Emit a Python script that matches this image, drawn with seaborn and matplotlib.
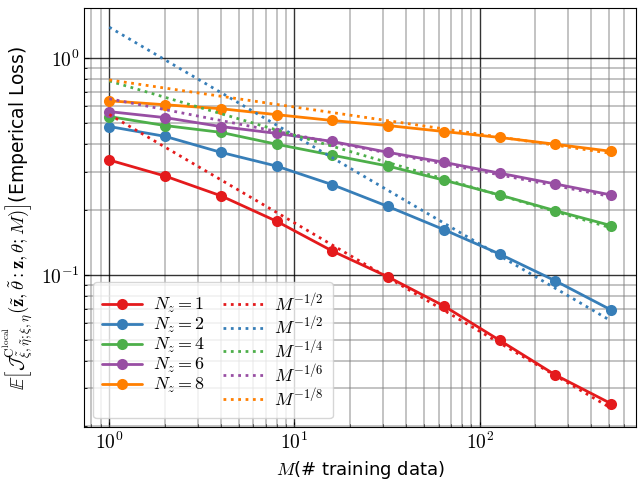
import math
import matplotlib
matplotlib.use('Agg')
import matplotlib.pyplot as plt
import matplotlib.ticker as mticker
import seaborn as sns
import pandas as pd

sns.set_style("ticks")
plt.rcParams['font.family'] = ['DejaVu Sans']
plt.rcParams['mathtext.fontset'] = 'cm'
plt.rcParams['text.color'] = 'black'
plt.rcParams['axes.labelcolor'] = 'black'
plt.rcParams['xtick.color'] = 'black'
plt.rcParams['ytick.color'] = 'black'

# training set sizes
M = [1, 2, 4, 8, 16, 32, 64, 128, 256, 512]

loss_nz1 = [0.339, 0.286, 0.232, 0.177, 0.129, 0.098, 0.072, 0.050, 0.0346, 0.0255]
loss_nz2 = [0.484, 0.436, 0.368, 0.318, 0.261, 0.207, 0.162, 0.125, 0.094, 0.069]
loss_nz4 = [0.538, 0.489, 0.455, 0.401, 0.357, 0.318, 0.274, 0.234, 0.198, 0.169]
loss_nz6 = [0.567, 0.532, 0.484, 0.450, 0.413, 0.368, 0.331, 0.295, 0.263, 0.234]
loss_nz8 = [0.636, 0.610, 0.585, 0.549, 0.516, 0.489, 0.459, 0.431, 0.401, 0.372]

# reference power-law lines (end points at M=1 and M=512)
ref_M = [1, 512]
ref_nz1 = [0.55, 0.0243]
ref_nz2 = [1.39, 0.0614]
ref_nz4 = [0.785, 0.165]
ref_nz6 = [0.65, 0.23]
ref_nz8 = [0.794, 0.364]

nz_labels = ['$N_z = 1$', '$N_z = 2$', '$N_z = 4$', '$N_z = 6$', '$N_z = 8$']
ref_labels = ['$M^{-1/2}$', '$M^{-1/2}$', '$M^{-1/4}$', '$M^{-1/6}$', '$M^{-1/8}$']
colors = ['#e41a1c', '#377eb8', '#4daf4a', '#984ea3', '#ff7f00']

losses = [loss_nz1, loss_nz2, loss_nz4, loss_nz6, loss_nz8]
refs = [ref_nz1, ref_nz2, ref_nz4, ref_nz6, ref_nz8]

fig, ax = plt.subplots(figsize=(6.38, 4.8), dpi=100)

for lab, loss, c in zip(nz_labels, losses, colors):
    df = pd.DataFrame({'M': M, 'loss': loss})
    sns.lineplot(data=df, x='M', y='loss', ax=ax, color=c, marker='o',
                 markersize=8, markeredgewidth=0, linewidth=2, label=lab)

for lab, ref, c in zip(ref_labels, refs, colors):
    df = pd.DataFrame({'M': ref_M, 'loss': ref})
    sns.lineplot(data=df, x='M', y='loss', ax=ax, color=c, linestyle=':',
                 linewidth=2, label=lab)

ax.set_xscale('log')
ax.set_yscale('log')
ax.margins(x=0.05, y=0.05)

fmt = mticker.FuncFormatter(lambda v, p: r'$10^{%d}$' % round(math.log10(v)))
ax.xaxis.set_major_formatter(fmt)
ax.yaxis.set_major_formatter(fmt)
ax.yaxis.set_minor_formatter(mticker.NullFormatter())
ax.tick_params(which='both', direction='in', labelsize=14)

ax.grid(True, which='major', color='black', linewidth=1.0, alpha=0.8)
ax.grid(True, which='minor', color='gray', linewidth=1.1, alpha=0.6)

ax.set_xlabel(r'$M$(# training data)', fontsize=13)
ax.set_ylabel(r'$\mathbb{E}\left[\mathcal{J}^{\mathrm{C}^{\mathrm{local}}}_{\tilde{\xi},\tilde{\eta};\xi,\eta}'
              r'(\tilde{\mathbf{z}},\tilde{\theta}:\mathbf{z},\theta;M)\right]$(Emperical Loss)', fontsize=13.5)

ax.legend(ncol=2, loc='lower left', fontsize=13, handlelength=2.2,
          columnspacing=1.0, labelspacing=0.05, borderpad=0.5, handletextpad=0.6)

for s in ax.spines.values():
    s.set_color('black')

plt.subplots_adjust(left=0.132, right=0.997, top=0.983, bottom=0.11)
plt.savefig('out.png', dpi=100)
